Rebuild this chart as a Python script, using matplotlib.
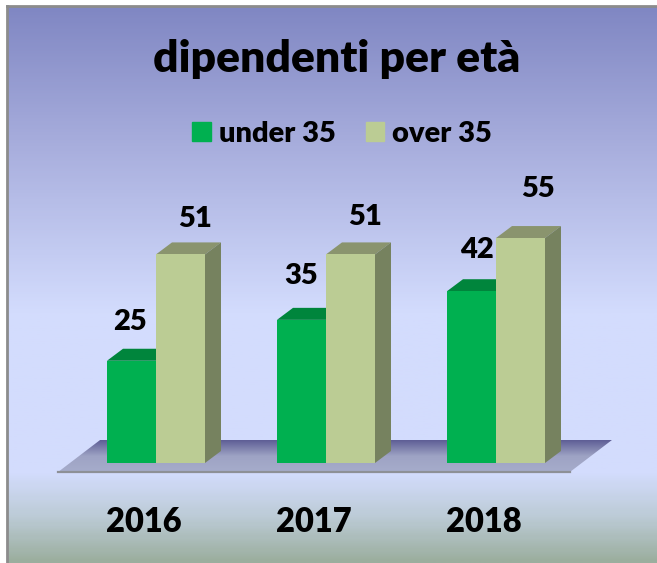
import numpy as np
import matplotlib
matplotlib.use("Agg")
import matplotlib.pyplot as plt
from matplotlib.colors import LinearSegmentedColormap
from matplotlib.patches import Polygon, Patch

years = ["2016", "2017", "2018"]
under_35 = [25, 35, 42]
over_35 = [51, 51, 55]
title = "dipendenti per età"

plt.rcParams['font.family'] = ['Lato', 'DejaVu Sans']
plt.rcParams['font.weight'] = 'heavy'

W, H = 657, 563
PX = 4.09  # px per unit on the value axis
green, green_top = "#00b050", "#00853c"
light, light_top, light_side = "#bbcc94", "#8a946e", "#76825f"

fig = plt.figure(figsize=(W / 100, H / 100), dpi=100, facecolor="white")

# background gradient with the grey frame on left and top
bg = fig.add_axes([7 / W, 0, (W - 7) / W, (H - 6) / H])
bg_cmap = LinearSegmentedColormap.from_list("bg", [
    (0.0, "#8087c3"), (0.25, "#a8aedd"), (0.55, "#d3dcfd"),
    (0.84, "#d3dcfd"), (0.92, "#bccbd6"), (1.0, "#9bae9e")])
bg.imshow(np.linspace(0, 1, 300).reshape(-1, 1), cmap=bg_cmap, aspect="auto", vmin=0, vmax=1)
bg.set_xticks([])
bg.set_yticks([])
for s in ["right", "bottom"]:
    bg.spines[s].set_visible(False)
for s in ["left", "top"]:
    bg.spines[s].set_color("#8c8c8c")
    bg.spines[s].set_linewidth(2)

# main axes covers the whole figure, 170 px per category
ax = fig.add_axes([0, 0, 1, 1])
ax.patch.set_alpha(0)
ax.axis("off")
xlim = (-156 / 170, (W - 156) / 170)
ylim = (-100 / PX, 463 / PX)

bar_w = 49 / 170
dx = 16 / 170
dy = 12 / PX
x = np.arange(len(years))

# floor
fl_l, fl_r = x[0] - 0.576, x[-1] + 0.435
fl_y0, fl_y1 = -9 / PX, 23 / PX
fl_s = 42 / 170
floor_cmap = LinearSegmentedColormap.from_list("floor", ["#a6accb", "#9ea3c4", "#5f5f96"])
im = ax.imshow(np.linspace(0, 1, 50).reshape(-1, 1), cmap=floor_cmap, aspect="auto",
               extent=(fl_l, fl_r + fl_s, fl_y0, fl_y1), zorder=1, origin="lower")
floor = Polygon([(fl_l, fl_y0), (fl_r, fl_y0), (fl_r + fl_s, fl_y1), (fl_l + fl_s, fl_y1)],
                transform=ax.transData, fc="none", ec="none")
ax.add_patch(floor)
im.set_clip_path(floor)
ax.plot([fl_l, fl_r], [fl_y0, fl_y0], color="#8d9096", lw=1.6, zorder=2)

ax.bar(x - bar_w / 2, under_35, bar_w, color=green, zorder=3)
ax.bar(x + bar_w / 2, over_35, bar_w, color=light, zorder=4)

for i in x:
    a, b, c = i - bar_w, i, i + bar_w
    u, o = under_35[i], over_35[i]
    ax.fill([a, a + dx, b + dx, b], [u, u + dy, u + dy, u], color=green_top, lw=0, zorder=2.5)
    ax.fill([b, b + dx, c + dx, c], [o, o + dy, o + dy, o], color=light_top, lw=0, zorder=3.5)
    ax.fill([c, c + dx, c + dx, c], [0, dy, o + dy, o], color=light_side, lw=0, zorder=3.5)

# value labels sit irregularly above the bars
u_off = [(-0.006, 39), (0.0, 44), (0.03, 41)]
o_off = [(0.085, 35), (0.085, 37), (0.105, 49)]
for i in x:
    ax.text(i - bar_w / 2 + u_off[i][0], under_35[i] + u_off[i][1] / PX, str(under_35[i]),
            ha="center", va="center", fontsize=21, color="black", zorder=6)
    ax.text(i + bar_w / 2 + o_off[i][0], over_35[i] + o_off[i][1] / PX, str(over_35[i]),
            ha="center", va="center", fontsize=21, color="black", zorder=6)

for i, y in zip(x, years):
    ax.text(i - 0.07, -59 / PX, y, ha="center", va="center", fontsize=23.5, color="black")

ax.text(1.065, 404 / PX, title, ha="center", va="center", fontsize=32, color="black")

handles = [Patch(color=green, label="under 35"), Patch(color=light, label="over 35")]
ax.legend(handles=handles, ncol=2, frameon=False, fontsize=21,
          loc="center", bbox_to_anchor=(342 / W, 1 - 133.5 / H), bbox_transform=fig.transFigure,
          handlelength=0.65, handleheight=0.65, handletextpad=0.25, columnspacing=1.03,
          labelcolor="black")

ax.set_xlim(xlim)
ax.set_ylim(ylim)

fig.savefig("out.png", dpi=100)
